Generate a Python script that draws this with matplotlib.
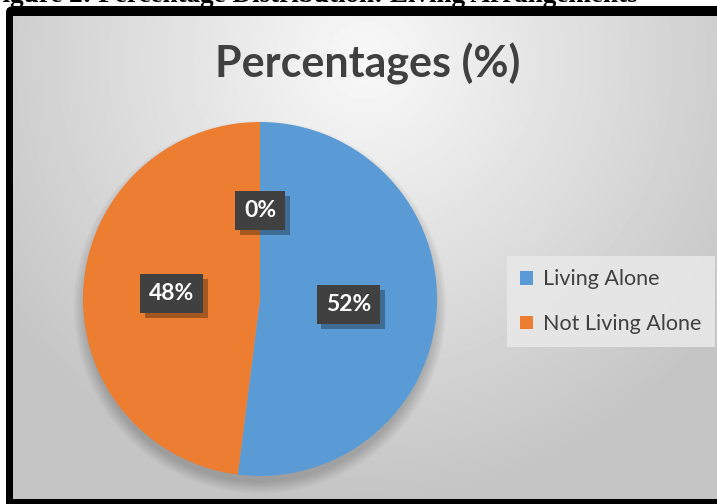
import numpy as np
import matplotlib
matplotlib.use("Agg")
import matplotlib.pyplot as plt
import matplotlib.patheffects as pe
from matplotlib.patches import Circle, FancyBboxPatch

# data
categories = ["Living Alone", "Not Living Alone", ""]
values = [52, 48, 0]
value_labels = ["52%", "48%", "0%"]
colors = ["#5B9BD5", "#ED7D31", "#A5A5A5"]
title = "Percentages (%)"
caption = "Figure 2: Percentage Distribution: Living Arrangements"

W, H = 717, 504


def fx(px):
    return px / W


def fy(py):
    return 1 - py / H


fig = plt.figure(figsize=(W / 100, H / 100), dpi=100)
fig.patch.set_facecolor("white")

# caption at the very top, mostly cut off
fig.text(fx(-14), fy(1.5), caption, family="Liberation Serif", weight="bold",
         fontsize=19.5, va="baseline", ha="left", color="black")

# black frame
frame = FancyBboxPatch((fx(6), fy(510)), fx(730), 504 / H,
                       boxstyle="round,pad=0,rounding_size=0.012",
                       transform=fig.transFigure, facecolor="black",
                       edgecolor="none", zorder=-10)
fig.patches.append(frame)

# gradient background
bg = fig.add_axes([fx(13), fy(499), fx(W - 13), (499 - 16) / H])
bg.set_zorder(-5)
bg.set_axis_off()
yy, xx = np.mgrid[16:499, 13:W]
d = np.sqrt(((xx - 365) / 430.0) ** 2 + ((yy - 60) / 430.0) ** 2)
shade = np.clip(0.975 - 0.20 * d, 0.77, 0.975)
bg.imshow(shade, cmap="gray", vmin=0, vmax=1, aspect="auto",
          extent=(0, 1, 0, 1), origin="upper")
bg.set_xlim(0, 1)
bg.set_ylim(0, 1)

# pie
ax = fig.add_axes([fx(83), fy(476), fx(354), 354 / H])

# soft shadow below the pie
for i in range(10):
    ax.add_patch(Circle((0, -0.045), 0.99 + 0.007 * i, facecolor="black",
                        alpha=0.018, edgecolor="none", zorder=0, clip_on=False))

wedges, _ = ax.pie(values, colors=colors, startangle=90, counterclock=False,
                   wedgeprops=dict(linewidth=0))
for w in wedges:
    w.set_zorder(2)
ax.set_xlim(-1, 1)
ax.set_ylim(-1, 1)
ax.set_aspect("equal")

for w, lab in zip(wedges, value_labels):
    mid = np.deg2rad((w.theta1 + w.theta2) / 2)
    t = ax.text(0.5 * np.cos(mid), 0.5 * np.sin(mid), lab, ha="center",
                va="center", family="Lato", weight="bold", fontsize=16.5,
                color="white", zorder=5,
                bbox=dict(boxstyle="square,pad=0.4", facecolor="#404040",
                          edgecolor="none"))
    t.get_bbox_patch().set_path_effects([
        pe.withSimplePatchShadow(offset=(3.5, -3.5), shadow_rgbFace="black", alpha=0.3)])

# title
fig.text(fx(368), fy(64), title, family="Lato", weight="bold", fontsize=31,
         color="#404040", ha="center", va="center")

# legend (two real categories only)
leg = fig.legend(wedges[:2], categories[:2], loc="upper left",
                 bbox_to_anchor=(fx(507), fy(256)), frameon=True,
                 prop=dict(family="Lato", size=15.5), labelcolor="#404040",
                 handlelength=0.6, handleheight=0.6, handletextpad=0.45,
                 labelspacing=1.15, borderpad=0.62, borderaxespad=0,
                 fancybox=False)
leg.get_frame().set_facecolor("#e8e8e8")
leg.get_frame().set_edgecolor("none")
leg.get_frame().set_alpha(0.9)

fig.savefig("out.png", dpi=100)
